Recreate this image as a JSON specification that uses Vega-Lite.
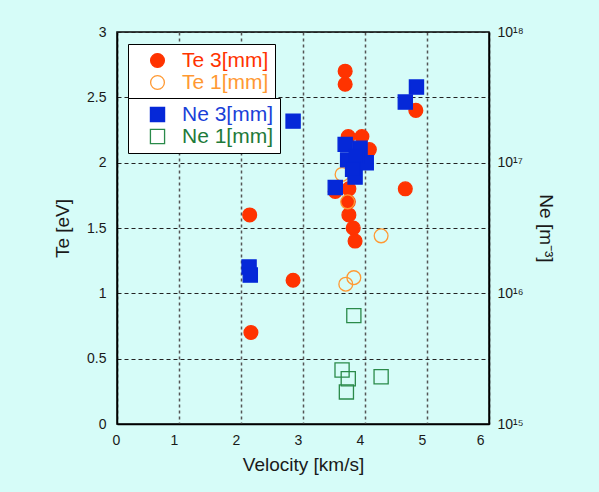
{
  "$schema": "https://vega.github.io/schema/vega-lite/v6.json",
  "width": 372,
  "height": 392,
  "autosize": {"type": "none"},
  "padding": {"left": 117, "top": 32, "right": 110, "bottom": 68},
  "background": "#d6fcf8",
  "config": {
    "font": "Liberation Sans",
    "view": {"stroke": "#000000", "strokeWidth": 1.5}
  },
  "datasets": {
    "te": [
      {"v": 2.16, "te": 0.70, "series": "Te 3[mm]"},
      {"v": 2.14, "te": 1.60, "series": "Te 3[mm]"},
      {"v": 2.84, "te": 1.10, "series": "Te 3[mm]"},
      {"v": 4.65, "te": 1.80, "series": "Te 3[mm]"},
      {"v": 3.68, "te": 2.70, "series": "Te 3[mm]"},
      {"v": 3.68, "te": 2.60, "series": "Te 3[mm]"},
      {"v": 4.82, "te": 2.40, "series": "Te 3[mm]"},
      {"v": 3.73, "te": 2.20, "series": "Te 3[mm]"},
      {"v": 3.95, "te": 2.20, "series": "Te 3[mm]"},
      {"v": 4.07, "te": 2.10, "series": "Te 3[mm]"},
      {"v": 3.52, "te": 1.78, "series": "Te 3[mm]"},
      {"v": 3.74, "te": 1.80, "series": "Te 3[mm]"},
      {"v": 3.73, "te": 1.70, "series": "Te 3[mm]"},
      {"v": 3.74, "te": 1.60, "series": "Te 3[mm]"},
      {"v": 3.81, "te": 1.50, "series": "Te 3[mm]"},
      {"v": 3.84, "te": 1.40, "series": "Te 3[mm]"},
      {"v": 4.26, "te": 1.44, "series": "Te 1[mm]"},
      {"v": 3.82, "te": 1.12, "series": "Te 1[mm]"},
      {"v": 3.69, "te": 1.07, "series": "Te 1[mm]"},
      {"v": 3.72, "te": 1.70, "series": "Te 1[mm]"},
      {"v": 3.63, "te": 1.91, "series": "Te 1[mm]"}
    ],
    "ne": [
      {"v": 2.84, "ne": 2.08e17, "series": "Ne 3[mm]"},
      {"v": 4.83, "ne": 3.79e17, "series": "Ne 3[mm]"},
      {"v": 4.65, "ne": 2.91e17, "series": "Ne 3[mm]"},
      {"v": 2.13, "ne": 1.59e16, "series": "Ne 3[mm]"},
      {"v": 2.15, "ne": 1.38e16, "series": "Ne 3[mm]"},
      {"v": 3.68, "ne": 1.38e17, "series": "Ne 3[mm]"},
      {"v": 3.92, "ne": 1.29e17, "series": "Ne 3[mm]"},
      {"v": 4.02, "ne": 1.00e17, "series": "Ne 3[mm]"},
      {"v": 3.84, "ne": 7.76e16, "series": "Ne 3[mm]"},
      {"v": 3.52, "ne": 6.46e16, "series": "Ne 3[mm]"},
      {"v": 3.72, "ne": 1.05e17, "series": "Ne 3[mm]"},
      {"v": 3.86, "ne": 1.12e17, "series": "Ne 3[mm]"},
      {"v": 3.80, "ne": 8.91e16, "series": "Ne 3[mm]"},
      {"v": 3.82, "ne": 6.75e15, "series": "Ne 1[mm]"},
      {"v": 3.63, "ne": 2.59e15, "series": "Ne 1[mm]"},
      {"v": 3.73, "ne": 2.22e15, "series": "Ne 1[mm]"},
      {"v": 3.70, "ne": 1.76e15, "series": "Ne 1[mm]"},
      {"v": 4.26, "ne": 2.30e15, "series": "Ne 1[mm]"}
    ]
  },
  "layer": [
    {
      "data": {"name": "te"},
      "mark": {"type": "point", "opacity": 1, "strokeWidth": 1.3, "size": 190, "shape": "circle"},
      "encoding": {
        "x": {
          "field": "v", "type": "quantitative",
          "scale": {"domain": [0, 6], "nice": false},
          "axis": {
            "values": [0, 1, 2, 3, 4, 5, 6],
            "labelExpr": "'' + datum.value",
            "title": "Velocity [km/s]",
            "grid": true, "gridDash": [3, 3], "gridColor": "#555555", "gridWidth": 1.5,
            "ticks": false, "domainColor": "#000000", "domainWidth": 1.5,
            "labelFontSize": 14, "labelColor": "#1a1a1a", "labelPadding": 9, "labelOffset": -5,
            "titleFontSize": 19, "titleFontWeight": "normal", "titleColor": "#1a1a1a", "titlePadding": 8
          }
        },
        "y": {
          "field": "te", "type": "quantitative",
          "scale": {"domain": [0, 3], "nice": false},
          "axis": {
            "values": [0, 0.5, 1, 1.5, 2, 2.5, 3],
            "labelExpr": "'' + datum.value",
            "title": "Te [eV]",
            "grid": true, "gridDash": [4, 3], "gridColor": "#222222", "gridWidth": 1,
            "ticks": false, "domainColor": "#000000", "domainWidth": 1.5,
            "labelFontSize": 14, "labelColor": "#1a1a1a", "labelPadding": 11,
            "titleFontSize": 19, "titleFontWeight": "normal", "titleColor": "#1a1a1a", "titlePadding": 14
          }
        },
        "fill": {
          "field": "series", "type": "nominal",
          "scale": {"domain": ["Te 3[mm]", "Te 1[mm]"], "range": ["#ff3300", "transparent"]},
          "legend": {
            "title": null, "orient": "none", "legendX": 11, "legendY": 12,
            "fillColor": "#ffffff", "strokeColor": "#000000", "padding": 6,
            "symbolOffset": 13, "symbolSize": 190, "symbolStrokeWidth": 1.3, "symbolType": "circle",
            "labelFontSize": 21, "labelOffset": 14, "rowPadding": 0,
            "labelColor": {"expr": "datum.label == 'Te 3[mm]' ? '#ff3300' : '#ff9933'"}
          }
        },
        "stroke": {
          "field": "series", "type": "nominal",
          "scale": {"domain": ["Te 3[mm]", "Te 1[mm]"], "range": ["#ff3300", "#ff9933"]},
          "legend": {
            "title": null, "orient": "none", "legendX": 11, "legendY": 12,
            "fillColor": "#ffffff", "strokeColor": "#000000", "padding": 6,
            "symbolOffset": 13, "symbolSize": 190, "symbolStrokeWidth": 1.3, "symbolType": "circle",
            "labelFontSize": 21, "labelOffset": 14, "rowPadding": 0,
            "labelColor": {"expr": "datum.label == 'Te 3[mm]' ? '#ff3300' : '#ff9933'"}
          }
        }
      }
    },
    {
      "data": {"name": "ne"},
      "mark": {"type": "point", "opacity": 1, "strokeWidth": 1.3, "size": 200, "shape": "square"},
      "encoding": {
        "x": {"field": "v", "type": "quantitative", "scale": {"domain": [0, 6], "nice": false}},
        "y": {
          "field": "ne", "type": "quantitative",
          "scale": {"type": "log", "domain": [1e15, 1e18], "nice": false},
          "axis": {
            "orient": "right",
            "values": [1e15, 1e16, 1e17, 1e18],
            "labelExpr": "datum.value < 5e15 ? '10¹⁵' : datum.value < 5e16 ? '10¹⁶' : datum.value < 5e17 ? '10¹⁷' : '10¹⁸'",
            "title": "Ne [m⁻³]",
            "grid": false, "ticks": false, "domainColor": "#000000", "domainWidth": 1.5,
            "labelFontSize": 14, "labelColor": "#1a1a1a", "labelPadding": 8,
            "titleFontSize": 19, "titleFontWeight": "normal", "titleColor": "#1a1a1a", "titlePadding": 12
          }
        },
        "fill": {
          "field": "series", "type": "nominal",
          "scale": {"domain": ["Ne 3[mm]", "Ne 1[mm]"], "range": ["#0528d8", "transparent"]},
          "legend": {
            "title": null, "orient": "none", "legendX": 11, "legendY": 66,
            "fillColor": "#ffffff", "strokeColor": "#000000", "padding": 6,
            "symbolOffset": 13, "symbolSize": 200, "symbolStrokeWidth": 1.3, "symbolType": "square",
            "labelFontSize": 21, "labelOffset": 14, "rowPadding": 0,
            "labelColor": {"expr": "datum.label == 'Ne 3[mm]' ? '#1a3fd8' : '#1e7a3a'"}
          }
        },
        "stroke": {
          "field": "series", "type": "nominal",
          "scale": {"domain": ["Ne 3[mm]", "Ne 1[mm]"], "range": ["#0528d8", "#2a8a4a"]},
          "legend": {
            "title": null, "orient": "none", "legendX": 11, "legendY": 66,
            "fillColor": "#ffffff", "strokeColor": "#000000", "padding": 6,
            "symbolOffset": 13, "symbolSize": 200, "symbolStrokeWidth": 1.3, "symbolType": "square",
            "labelFontSize": 21, "labelOffset": 14, "rowPadding": 0,
            "labelColor": {"expr": "datum.label == 'Ne 3[mm]' ? '#1a3fd8' : '#1e7a3a'"}
          }
        }
      }
    }
  ],
  "resolve": {"scale": {"y": "independent", "fill": "independent", "stroke": "independent"}}
}
